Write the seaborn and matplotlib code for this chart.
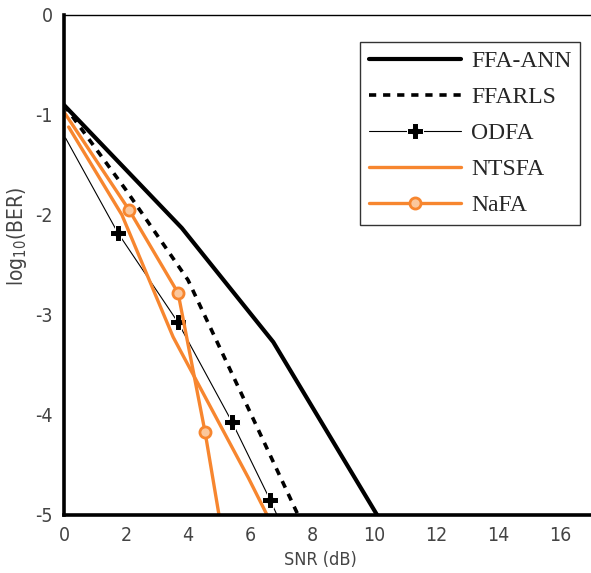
import numpy as np
import pandas as pd
import matplotlib
matplotlib.use("Agg")
import matplotlib.pyplot as plt
import seaborn as sns

# values (SNR in dB, log10 BER)
ffa_ann_snr = [0.0, 3.8, 6.75, 10.1]
ffa_ann_ber = [-0.9, -2.13, -3.27, -5.0]

ffarls_snr = [0.0, 2.0, 4.0, 6.0, 7.55]
ffarls_ber = [-0.9, -1.75, -2.65, -3.97, -5.0]

odfa_snr = [0.05, 1.74, 3.67, 5.42, 6.65, 6.87]
odfa_ber = [-1.23, -2.18, -3.07, -4.07, -4.85, -5.0]

ntsfa_snr = [0.15, 1.87, 3.52, 5.95, 6.55]
ntsfa_ber = [-1.12, -2.0, -3.22, -4.63, -5.0]

nafa_snr = [0.0, 2.1, 3.68, 4.55, 5.0]
nafa_ber = [-0.97, -1.95, -2.78, -4.17, -5.0]

x_ticks = [0, 2, 4, 6, 8, 10, 12, 14, 16]
y_ticks = [0, -1, -2, -3, -4, -5]

orange = "#f7862f"

sns.set_theme(style="white")
plt.rcParams["axes.unicode_minus"] = False
plt.rcParams["font.family"] = ["DejaVu Sans"]
plt.rcParams["font.stretch"] = "condensed"

fig = plt.figure(figsize=(5.91, 5.73), dpi=100)
ax = fig.add_axes([64 / 591, 58 / 573, 527 / 591, 500 / 573])

sns.lineplot(x=ffa_ann_snr, y=ffa_ann_ber, ax=ax, sort=False, estimator=None,
             color="black", lw=3.0, label="FFA-ANN")
sns.lineplot(x=ffarls_snr, y=ffarls_ber, ax=ax, sort=False, estimator=None,
             color="black", lw=2.6, linestyle=(0, (2.0, 1.9)), label="FFARLS")
sns.lineplot(x=odfa_snr, y=odfa_ber, ax=ax, sort=False, estimator=None,
             color="black", lw=0.8, marker="P", markersize=11,
             markevery=[1, 2, 3, 4], label="ODFA")
sns.lineplot(x=ntsfa_snr, y=ntsfa_ber, ax=ax, sort=False, estimator=None,
             color=orange, lw=2.4, label="NTSFA")
sns.lineplot(x=nafa_snr, y=nafa_ber, ax=ax, sort=False, estimator=None,
             color=orange, lw=2.4, marker="o", markersize=8,
             markerfacecolor="#fbc79c", markeredgecolor=orange,
             markeredgewidth=2, markevery=[1, 2, 3], label="NaFA")

ax.set_xlim(0, 17)
ax.set_ylim(-5, 0)
ax.set_xticks(x_ticks)
ax.set_yticks(y_ticks)
ax.set_xticklabels([str(t) for t in x_ticks])
ax.set_yticklabels([str(t) for t in y_ticks])
ax.tick_params(axis="both", direction="in", length=3, width=1, color="#666666",
               labelsize=14, labelcolor="#444444")
ax.tick_params(axis="x", pad=8)
ax.tick_params(axis="y", pad=8)

for side in ["left", "bottom"]:
    ax.spines[side].set_color("black")
    ax.spines[side].set_linewidth(2.6)
ax.spines["top"].set_color("black")
ax.spines["top"].set_linewidth(1.0)
ax.spines["right"].set_visible(False)

ax.set_xlabel("SNR (dB)", fontsize=13, color="#444444")
ax.xaxis.set_label_coords(0.486, -0.072)
ax.set_ylabel("log$_{10}$(BER)", fontsize=15, color="#444444")
ax.yaxis.set_label_coords(-0.066, 0.556)

leg = ax.legend(loc="upper right", bbox_to_anchor=(580 / 591, 1 - 42 / 573),
                bbox_transform=fig.transFigure, borderaxespad=0,
                prop={"family": "Liberation Serif", "size": 17},
                frameon=True, fancybox=False, edgecolor="black",
                handlelength=3.9, handletextpad=0.45, labelspacing=0.62,
                borderpad=0.35)
leg.get_frame().set_linewidth(1.0)

fig.savefig("out.png", dpi=100)
